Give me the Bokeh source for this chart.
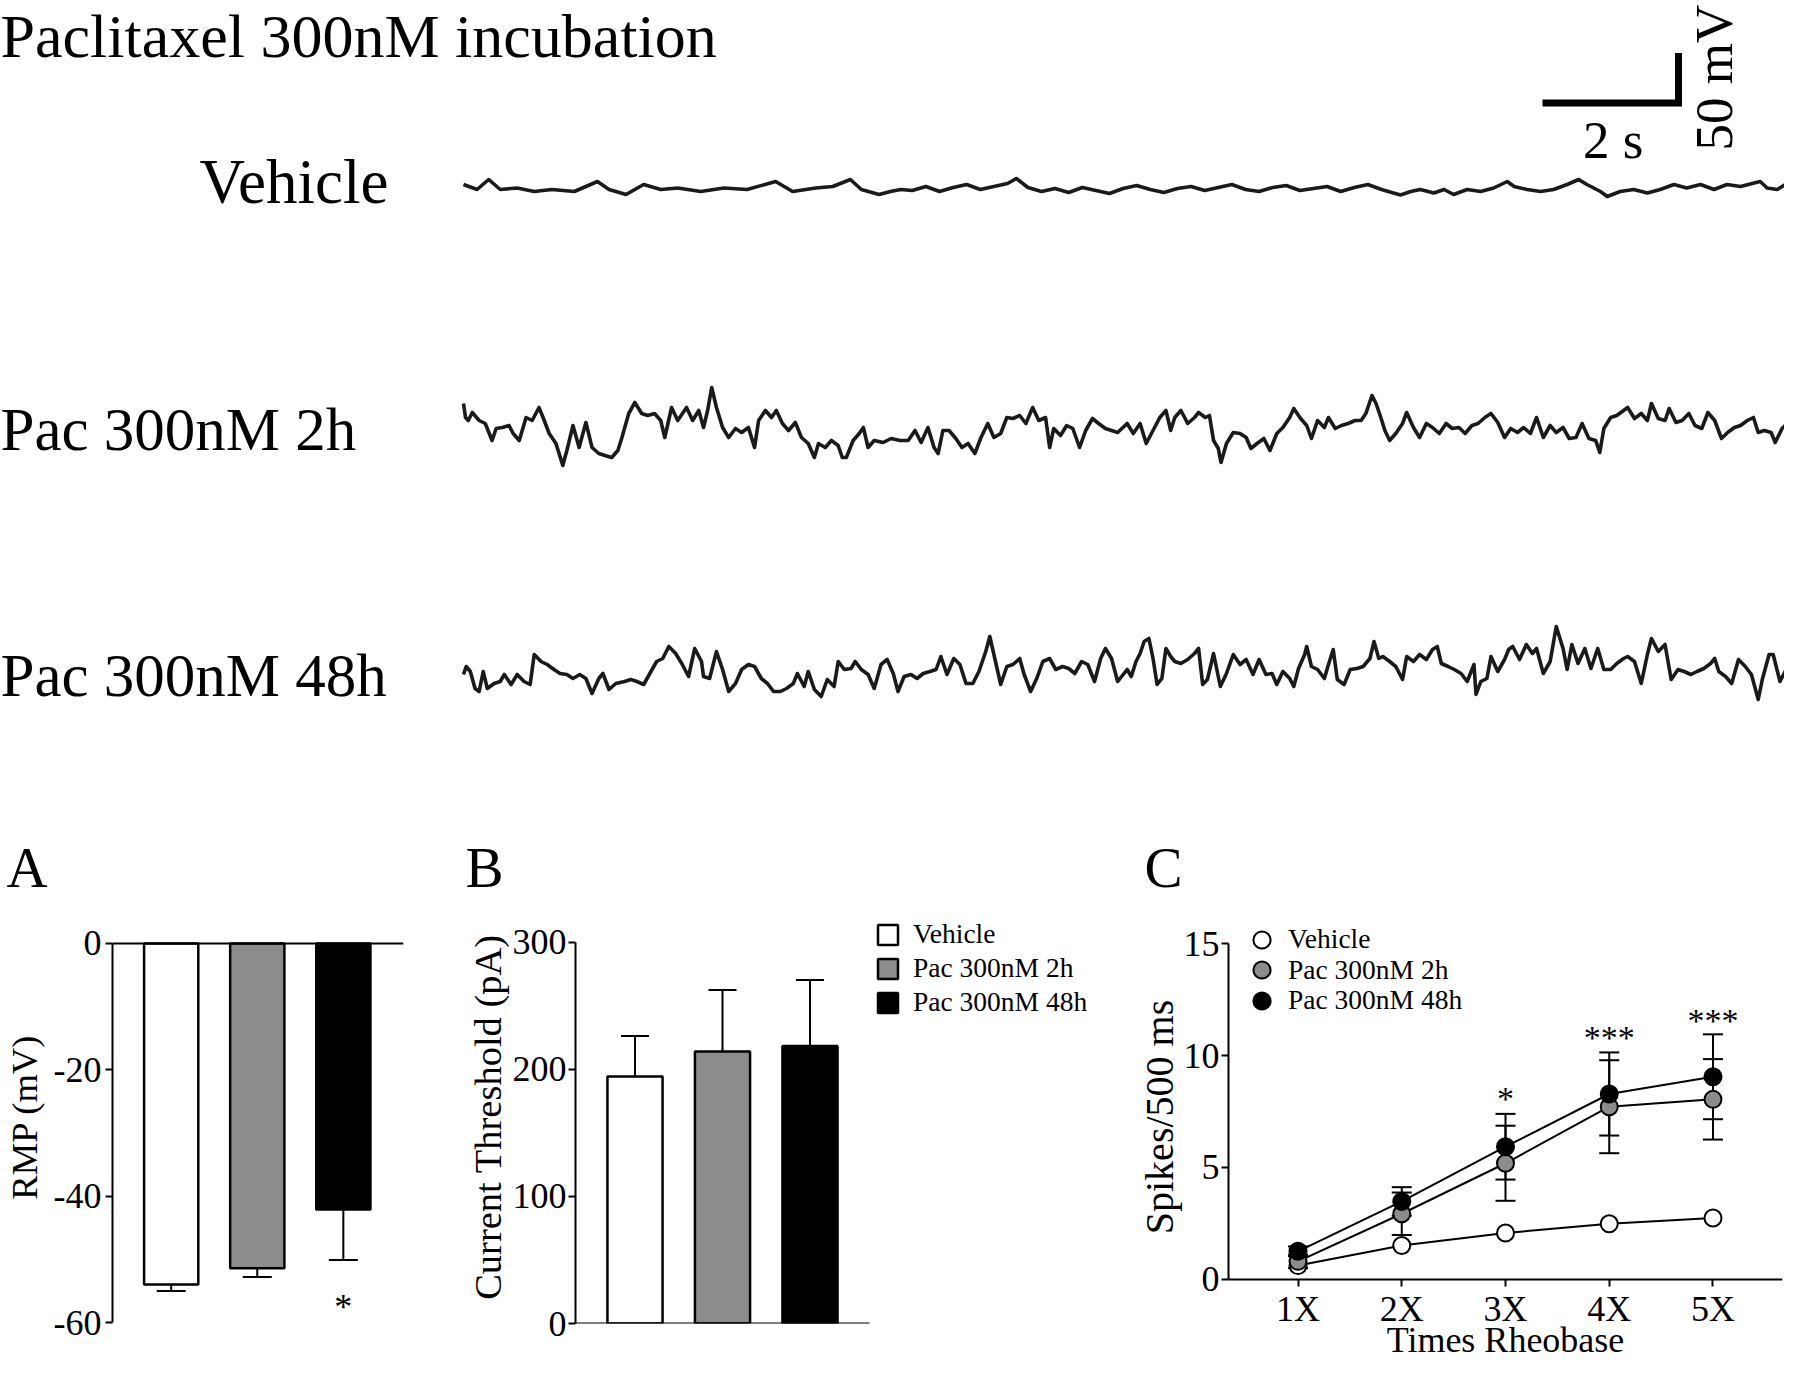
import math
from bokeh.plotting import figure
from bokeh.layouts import column, row
from bokeh.models import (Range1d, FixedTicker, Whisker, TeeHead, ColumnDataSource,
                          Legend, LegendItem, LinearAxis)
from bokeh.core.properties import value
from bokeh.embed import file_html
from bokeh.resources import INLINE

FONT = "Liberation Serif"

# ------------------------------------------------------------------
# Example membrane-potential traces (time in s, deviation in mV)
# ------------------------------------------------------------------
veh_t = [0.00, 0.20, 0.37, 0.54, 0.79, 1.04, 1.30, 1.63, 1.97, 2.14,
         2.39, 2.65, 2.90, 3.15, 3.49, 3.83, 4.17, 4.59, 4.84, 5.18,
         5.43, 5.69, 5.85, 6.11, 6.28, 6.43, 6.60, 6.80, 7.00, 7.20,
         7.40, 7.60, 7.80, 8.00, 8.13, 8.30, 8.50, 8.70, 8.90, 9.10,
         9.30, 9.50, 9.70, 9.90, 10.10, 10.30, 10.50, 10.70, 10.90, 11.10,
         11.30, 11.50, 11.70, 11.90, 12.10, 12.30, 12.50, 12.70, 12.90, 13.10,
         13.30, 13.50, 13.65, 13.78, 13.93, 14.07, 14.27, 14.42, 14.56, 14.76,
         14.96, 15.15, 15.35, 15.45, 15.64, 15.84, 16.03, 16.23, 16.40, 16.52,
         16.72, 16.82, 17.01, 17.21, 17.41, 17.60, 17.80, 17.99, 18.19, 18.39,
         18.58, 18.78, 18.98, 19.07, 19.17, 19.32, 19.44]
veh_mv = [4, -1, 9, -1, 0.5, -3, -1, -3, 7, -1,
          -6, 4, -1, 0.5, -3, 0.5, -1, 7, -3, 0.5,
          2, 9, -1, -6, -3, -1, -2, 2, -3, 1,
          4, -1, 2, 5, 10, 1, -3, 0, -4, 1,
          -2, -5, 0, 3, -1, -4, 0, 2, -2, 1,
          4, -1, -3, 1, 3, -2, 0, 2, -3, 1,
          4, -1, -4, -6.5, -3, -1, -4.5, -1, -6, -1,
          -3, 0.5, 7, 2, -1, -3, -1, 4, 9, 4,
          -3, -8, -3, -1, -4.5, -1, 4, 0.5, 4, -1,
          4, 2, 5.5, 7, 0.5, -1, 4]

pac2_t = [0.00, 0.03, 0.07, 0.13, 0.23, 0.32, 0.42, 0.48, 0.57, 0.67,
          0.73, 0.82, 0.92, 1.01, 1.11, 1.17, 1.26, 1.36, 1.46, 1.52,
          1.61, 1.70, 1.80, 1.89, 1.99, 2.08, 2.18, 2.27, 2.33, 2.43,
          2.52, 2.62, 2.71, 2.81, 2.90, 2.96, 3.06, 3.15, 3.28, 3.37,
          3.46, 3.53, 3.59, 3.65, 3.72, 3.81, 3.90, 4.00, 4.09, 4.19,
          4.28, 4.34, 4.44, 4.53, 4.60, 4.69, 4.78, 4.88, 4.97, 5.07,
          5.16, 5.22, 5.32, 5.41, 5.51, 5.57, 5.63, 5.73, 5.82, 5.88,
          5.95, 6.04, 6.17, 6.29, 6.42, 6.54, 6.64, 6.73, 6.83, 6.92,
          6.98, 7.05, 7.14, 7.24, 7.33, 7.42, 7.52, 7.61, 7.71, 7.80,
          7.90, 7.99, 8.08, 8.18, 8.27, 8.37, 8.46, 8.56, 8.62, 8.68,
          8.78, 8.87, 8.96, 9.06, 9.15, 9.25, 9.34, 9.44, 9.53, 9.62,
          9.76, 9.85, 9.95, 10.04, 10.14, 10.24, 10.33, 10.40, 10.46, 10.55,
          10.65, 10.75, 10.81, 10.91, 10.97, 11.03, 11.10, 11.14, 11.22, 11.32,
          11.42, 11.51, 11.58, 11.67, 11.77, 11.86, 11.96, 12.05, 12.15, 12.21,
          12.31, 12.40, 12.47, 12.56, 12.66, 12.72, 12.82, 12.91, 13.01, 13.11,
          13.20, 13.27, 13.36, 13.42, 13.49, 13.55, 13.62, 13.71, 13.81, 13.87,
          13.97, 14.06, 14.16, 14.25, 14.35, 14.45, 14.54, 14.64, 14.73, 14.83,
          14.92, 15.02, 15.11, 15.21, 15.31, 15.40, 15.50, 15.59, 15.69, 15.78,
          15.88, 15.98, 16.07, 16.17, 16.26, 16.36, 16.45, 16.55, 16.65, 16.71,
          16.77, 16.87, 16.96, 17.06, 17.12, 17.22, 17.32, 17.41, 17.47, 17.57,
          17.67, 17.73, 17.83, 17.92, 18.02, 18.11, 18.21, 18.30, 18.40, 18.50,
          18.59, 18.69, 18.78, 18.88, 18.97, 19.04, 19.13, 19.23, 19.29, 19.39,
          19.48, 19.58, 19.64]
pac2_mv = [27, 13, 10, 18, 10, 7, -10, 2, 3, 5,
           -3, -10, 13, 10, 23, 13, -3, -13, -35, -20,
           5, -17, 8, -17, -23, -25, -27, -20, -7, 17,
           28, 17, 15, 17, 10, -7, 23, 10, 23, 10,
           20, 3, 20, 43, 23, 3, -7, 2, -2, 3,
           -17, 10, 20, 13, 20, 7, 0, 8, -7, -13,
           -27, -13, -17, -10, -15, -27, -27, -10, -3, 3,
           -17, -10, -12, -8, -10, -10, 0, -12, 3, -17,
           -23, 0, 0, -8, -17, -13, -23, -7, 7, -7,
           -3, 13, 12, 15, 7, 23, 10, 13, -17, 2,
           -5, 5, 2, -17, 0, 12, 7, 2, 0, -2,
           7, -3, 7, -13, 0, 13, 20, 0, 13, 20,
           7, 13, 18, 13, 15, -10, -18, -32, -13, -2,
           -3, -7, -18, -13, -8, -20, -3, 3, 13, 22,
           12, 5, -8, 10, 3, 13, 2, 5, 7, 10,
           10, 17, 35, 27, 13, 0, -10, -3, 7, 18,
           3, -7, 7, 3, -3, 7, 2, 3, -3, 5,
           7, 13, 17, 8, -7, 2, -2, 3, -3, 13,
           -7, 5, -2, 3, -8, -7, 7, -8, -10, -22,
           2, 13, 15, 20, 23, 12, 17, 10, 27, 12,
           10, 22, 8, 10, 17, 5, 2, 18, 10, -8,
           -2, 3, 5, 10, 13, -2, 0, -2, -12, 2,
           8, 20, 13]

pac48_t = [0.00, 0.04, 0.10, 0.17, 0.23, 0.29, 0.35, 0.45, 0.54, 0.60,
           0.70, 0.79, 0.89, 0.98, 1.04, 1.14, 1.23, 1.33, 1.42, 1.52,
           1.61, 1.71, 1.80, 1.89, 1.99, 2.05, 2.14, 2.24, 2.37, 2.46,
           2.55, 2.65, 2.74, 2.84, 2.93, 3.02, 3.12, 3.21, 3.31, 3.40,
           3.50, 3.53, 3.62, 3.72, 3.81, 3.90, 4.00, 4.09, 4.19, 4.28,
           4.38, 4.47, 4.56, 4.66, 4.75, 4.85, 4.91, 5.01, 5.07, 5.16,
           5.26, 5.35, 5.45, 5.51, 5.60, 5.70, 5.76, 5.85, 5.95, 6.04,
           6.14, 6.23, 6.32, 6.39, 6.48, 6.58, 6.67, 6.76, 6.86, 6.95,
           7.02, 7.11, 7.21, 7.30, 7.39, 7.49, 7.58, 7.68, 7.74, 7.80,
           7.90, 7.99, 8.08, 8.18, 8.24, 8.34, 8.43, 8.52, 8.62, 8.71,
           8.81, 8.90, 8.99, 9.09, 9.18, 9.28, 9.37, 9.44, 9.53, 9.62,
           9.76, 9.82, 9.89, 9.95, 10.01, 10.08, 10.14, 10.20, 10.27, 10.33,
           10.40, 10.46, 10.55, 10.65, 10.75, 10.81, 10.87, 10.94, 11.03, 11.13,
           11.22, 11.32, 11.42, 11.51, 11.61, 11.70, 11.80, 11.89, 11.96, 12.05,
           12.15, 12.21, 12.28, 12.37, 12.40, 12.47, 12.56, 12.66, 12.72, 12.79,
           12.85, 12.95, 13.04, 13.14, 13.23, 13.33, 13.39, 13.46, 13.52, 13.62,
           13.71, 13.81, 13.87, 13.97, 14.06, 14.16, 14.25, 14.32, 14.38, 14.48,
           14.57, 14.67, 14.76, 14.86, 14.89, 14.96, 15.05, 15.11, 15.21, 15.31,
           15.37, 15.43, 15.53, 15.63, 15.72, 15.78, 15.88, 15.98, 16.07, 16.17,
           16.23, 16.30, 16.39, 16.49, 16.58, 16.68, 16.77, 16.87, 16.96, 17.06,
           17.12, 17.22, 17.32, 17.41, 17.47, 17.57, 17.67, 17.76, 17.86, 17.95,
           18.05, 18.14, 18.24, 18.34, 18.40, 18.46, 18.56, 18.65, 18.75, 18.85,
           18.94, 19.04, 19.10, 19.20, 19.26, 19.36, 19.45, 19.53]
pac48_mv = [-1, 7, 2, -15, -18, 2, -15, -10, -8, -1,
            -11, -1, -8, -11, 19, 12, 9, 4, 0, -1,
            -5, -1, -5, -20, -5, 0, -16, -10, -8, -6,
            -8, -11, 0, 12, 15, 27, 20, 10, -3, 25,
            12, -3, -5, 22, 4, -18, -10, 4, 9, 7,
            -5, -10, -18, -18, -15, -10, 0, -13, 2, -16,
            -23, -6, -13, 12, 4, 5, 12, 4, -1, -15,
            9, 14, 0, -18, -3, -1, -5, 0, 2, 4,
            17, -1, 15, 9, -10, -10, 2, 22, 37, 19,
            -11, 7, 9, 15, 0, -18, -5, 12, 15, 4,
            7, 5, 0, 12, 9, -8, 15, 25, 15, -8,
            4, -3, 12, 20, 32, 35, 15, -11, -5, 25,
            17, 12, 10, 14, 20, 25, -11, -6, 20, -13,
            0, 19, 9, 14, -1, 14, -1, 0, -11, 2,
            -5, -13, 5, 19, 27, 7, 4, -5, 9, 24,
            -6, -11, 4, 5, 7, 15, 32, 15, 17, 12,
            7, -6, 17, 12, 19, 14, 24, 27, 10, 7,
            4, 0, -8, 9, -21, -8, -5, 17, 2, 14,
            24, 27, 14, 29, 20, 25, 0, 12, 47, 25,
            4, 29, 10, 25, 5, 25, 4, 4, 10, 15,
            17, 12, -10, 19, 35, 22, 29, -6, 4, 2,
            -1, 2, 5, 10, 15, 2, -3, -10, 14, 7,
            -1, -26, -6, 19, 19, -8, 4, 23]

trace_labels = ["Vehicle", "Pac 300nM 2h", "Pac 300nM 48h"]
scale_s = 2      # s
scale_mv = 50    # mV

# ------------------------------------------------------------------
# Summary data
# ------------------------------------------------------------------
groups = ["Vehicle", "Pac 300nM 2h", "Pac 300nM 48h"]
rmp_ticks = [-60, -40, -20, 0]
rmp_mean = [-54.0, -51.4, -42.1]
rmp_sem = [1.0, 1.4, 8.0]
thr_ticks = [0, 100, 200, 300]
thr_mean = [194.4, 214.1, 218.5]
thr_sem = [32.0, 48.4, 51.9]

rheo_x = [1, 2, 3, 4, 5]
rheo_labels = ["1X", "2X", "3X", "4X", "5X"]
spk_ticks = [0, 5, 10, 15]
spk_veh = [0.60, 1.50, 2.06, 2.47, 2.73]
spk_2h = [0.79, 2.92, 5.18, 7.71, 8.04]
spk_48h = [1.24, 3.47, 5.92, 8.28, 9.05]
sem_2h = [0.30, 0.95, 1.68, 2.08, 1.80]
sem_48h = [0.22, 0.64, 1.47, 1.86, 1.90]
sig_x = [3, 4, 5]
sig_text = ["*", "***", "***"]

FILLS = ["white", "#8c8c8c", "black"]
MID = 0.34  # offset (in em) between the middle of a text line and its baseline


def clean(p):
    p.grid.visible = False
    p.outline_line_color = None
    p.background_fill_color = "white"
    p.border_fill_color = "white"


def style_axis(ax, label_size="36px"):
    ax.axis_line_width = 2
    ax.axis_line_color = "black"
    ax.major_tick_line_width = 2
    ax.major_tick_line_color = "black"
    ax.major_tick_out = 7
    ax.major_tick_in = 0
    ax.minor_tick_line_color = None
    ax.major_label_text_font = FONT
    ax.major_label_text_font_size = "36px"
    ax.major_label_text_color = "black"
    ax.axis_label_text_font = FONT
    ax.axis_label_text_font_size = label_size
    ax.axis_label_text_font_style = "normal"
    ax.axis_label_text_color = "black"


def bare_axis(ax):
    """Axis line only: no ticks and no tick labels."""
    ax.ticker = FixedTicker(ticks=[])
    ax.major_tick_line_color = None
    ax.major_tick_out = 0
    ax.minor_tick_line_color = None
    ax.minor_tick_out = 0
    ax.major_label_standoff = 0
    ax.axis_line_width = 2
    ax.axis_line_color = "black"


# ------------------------------------------------------------------
# Top: traces (1 screen px = 1 mV vertically, 68 px per second)
# ------------------------------------------------------------------
PX_PER_S = 68.0
T0_PX = 463
TOP_H = 900
top = figure(width=1784, height=TOP_H,
             x_range=Range1d(-T0_PX / PX_PER_S, (1784 - T0_PX) / PX_PER_S),
             y_range=Range1d(-TOP_H, 0),
             x_axis_location=None, y_axis_location=None,
             output_backend="svg", toolbar_location=None, min_border=0)
clean(top)


def tx(px):
    return (px - T0_PX) / PX_PER_S


trace_offsets = [-188, -430, -673]
for ts, vs, off in zip([veh_t, pac2_t, pac48_t], [veh_mv, pac2_mv, pac48_mv], trace_offsets):
    top.line(x=ts, y=[off + v for v in vs], line_color="#1a1a1a", line_width=3.6,
             line_join="round")


def put_text(x, base_px, txt, size, align="left", angle=0.0):
    top.text(x=[x], y=[-(base_px - MID * size)], text=[txt], angle=angle,
             text_font=value(FONT), text_font_size=f"{size}px", text_color="black",
             text_align=align, text_baseline="middle")


put_text(tx(0), 57, "Paclitaxel 300nM incubation", 62)
put_text(tx(388), 203, trace_labels[0], 63, align="right")
put_text(tx(0), 450, trace_labels[1], 61)
put_text(tx(0), 696, trace_labels[2], 61)

SB_T, SB_Y = tx(1678), -102.5
top.line(x=[SB_T - scale_s, SB_T, SB_T], y=[SB_Y, SB_Y, SB_Y + scale_mv],
         line_color="black", line_width=7, line_join="miter", line_cap="butt")
put_text(SB_T - scale_s / 2 + 0.04, 158, f"{scale_s} s", 53, align="center")
top.text(x=[tx(1732 - MID * 53)], y=[-77], text=[f"{scale_mv} mV"], angle=math.pi / 2,
         text_font=value(FONT), text_font_size="53px", text_color="black",
         text_align="center", text_baseline="middle")

# panel letters
put_text(tx(6), 886, "A", 57)
put_text(tx(465), 886, "B", 57)
put_text(tx(1144), 886, "C", 57)

# ------------------------------------------------------------------
# Bottom row: common frame from y=910 to y=1324 (page px)
# ------------------------------------------------------------------
ROW_H = 1362 - TOP_H
FR_TOP, FR_BOT = 910, 1324
BT, BB = FR_TOP - TOP_H, 1362 - FR_BOT

# A: RMP (0 at y=943, -60 at 1323)
pxA = 380 / 60.0
pA = figure(width=440, height=ROW_H,
            x_range=Range1d(0.318, 3.699),
            y_range=Range1d(-60 - (FR_BOT - 1323) / pxA, (943 - FR_TOP) / pxA),
            x_axis_location="above", output_backend="svg", toolbar_location=None,
            min_border_left=108, min_border_right=37, min_border_top=BT, min_border_bottom=BB)
clean(pA)
pA.vbar(x=[1, 2, 3], top=rmp_mean, bottom=0, width=0.63, fill_color=FILLS,
        line_color="black", line_width=2.5)
srcA = ColumnDataSource(dict(base=[1, 2, 3], upper=rmp_mean,
                             lower=[m - s for m, s in zip(rmp_mean, rmp_sem)]))
pA.add_layout(Whisker(source=srcA, base="base", upper="upper", lower="lower",
                      upper_head=None, lower_head=TeeHead(size=29, line_width=2),
                      line_width=2, line_color="black"))
pA.text(x=[3], y=[-57.5], text=["*"], text_font=value(FONT), text_font_size="36px",
        text_align="center", text_baseline="middle", text_color="black")
style_axis(pA.yaxis[0], "36.5px")
pA.yaxis.ticker = FixedTicker(ticks=rmp_ticks)
pA.yaxis.bounds = (min(rmp_ticks), max(rmp_ticks))
pA.yaxis.major_label_overrides = {t: str(t) for t in rmp_ticks}
pA.yaxis.axis_label = "RMP (mV)"
pA.yaxis.major_label_standoff = 4
pA.yaxis.axis_label_standoff = 6
bare_axis(pA.xaxis[0])
pA.xaxis.fixed_location = 0

# B: current threshold (0 at 1324, 300 at 942)
pxB = 382 / 300.0
pB = figure(width=680, height=ROW_H,
            x_range=Range1d(0.32, 0.32 + 525 / 87.5),
            y_range=Range1d(-(FR_BOT - 1324) / pxB, 300 + (942 - FR_TOP) / pxB),
            output_backend="svg", toolbar_location=None,
            min_border_left=135, min_border_right=20, min_border_top=BT, min_border_bottom=BB)
clean(pB)
rB = pB.vbar(x=[1, 2, 3], top=thr_mean, bottom=0, width=0.63, fill_color=FILLS,
             line_color="black", line_width=2.5)
srcB = ColumnDataSource(dict(base=[1, 2, 3], lower=thr_mean,
                             upper=[m + s for m, s in zip(thr_mean, thr_sem)]))
pB.add_layout(Whisker(source=srcB, base="base", upper="upper", lower="lower",
                      lower_head=None, upper_head=TeeHead(size=28, line_width=2),
                      line_width=2, line_color="black"))
style_axis(pB.yaxis[0], "38.5px")
pB.yaxis.ticker = FixedTicker(ticks=thr_ticks)
pB.yaxis.bounds = (min(thr_ticks), max(thr_ticks))
pB.yaxis.axis_label = "Current Threshold (pA)"
pB.yaxis.major_label_standoff = 2
pB.yaxis.axis_label_standoff = 1
bare_axis(pB.xaxis[0])
pB.xaxis.bounds = (0.32, 3.68)
pB.xaxis.fixed_location = 0
legB = Legend(items=[LegendItem(label=value(g), renderers=[rB], index=i)
                     for i, g in enumerate(groups)],
              location=(300, FR_BOT - 1019), glyph_width=25, glyph_height=25, spacing=2,
              label_standoff=13, padding=0, margin=0, border_line_color=None,
              background_fill_alpha=0, label_text_font=FONT,
              label_text_font_size="27.5px", label_text_color="black")
pB.add_layout(legB)

# C: spikes vs times rheobase (0 at 1279.4, 15 at 943.4)
pxC = 336 / 15.0
pC = figure(width=664, height=ROW_H, x_range=Range1d(0.33, 5.67),
            y_range=Range1d(-(FR_BOT - 1279.4) / pxC, 15 + (943.4 - FR_TOP) / pxC),
            output_backend="svg", toolbar_location=None,
            min_border_left=108, min_border_right=2, min_border_top=BT, min_border_bottom=BB)
clean(pC)
srcC2 = ColumnDataSource(dict(base=rheo_x, lower=[m - s for m, s in zip(spk_2h, sem_2h)],
                              upper=[m + s for m, s in zip(spk_2h, sem_2h)]))
srcC48 = ColumnDataSource(dict(base=rheo_x, lower=[m - s for m, s in zip(spk_48h, sem_48h)],
                               upper=[m + s for m, s in zip(spk_48h, sem_48h)]))
for src in (srcC2, srcC48):
    pC.add_layout(Whisker(source=src, base="base", upper="upper", lower="lower",
                          upper_head=TeeHead(size=20, line_width=2),
                          lower_head=TeeHead(size=20, line_width=2),
                          line_width=2, line_color="black"))
for ys in (spk_veh, spk_2h, spk_48h):
    pC.line(x=rheo_x, y=ys, line_color="black", line_width=2)
scat = []
for ys, fc in zip([spk_veh, spk_2h, spk_48h], FILLS):
    scat.append(pC.scatter(x=rheo_x, y=ys, size=17, marker="circle", fill_color=fc,
                           line_color="black", line_width=2))
pC.text(x=sig_x, y=[8.08, 10.82, 11.57], text=sig_text, text_font=value(FONT),
        text_font_size="34px", text_align="center", text_baseline="middle",
        text_color="black")
style_axis(pC.yaxis[0], "40px")
style_axis(pC.xaxis[0], "36px")
pC.yaxis.ticker = FixedTicker(ticks=spk_ticks)
pC.yaxis.bounds = (min(spk_ticks), max(spk_ticks))
pC.yaxis.axis_label = "Spikes/500 ms"
pC.yaxis.major_label_standoff = 2
pC.yaxis.axis_label_standoff = -1
pC.xaxis.ticker = FixedTicker(ticks=rheo_x)
pC.xaxis.major_label_overrides = {x: l for x, l in zip(rheo_x, rheo_labels)}
pC.xaxis.major_label_standoff = 3
pC.xaxis.fixed_location = 0
# x-axis title sits in the panel under the frame (no line, no ticks)
title_ax = LinearAxis(axis_label="Times Rheobase", axis_label_standoff=-4,
                      axis_label_text_font=FONT, axis_label_text_font_size="36px",
                      axis_label_text_font_style="normal", axis_label_text_color="black")
bare_axis(title_ax)
title_ax.axis_line_color = None
pC.add_layout(title_ax, "below")
# one single-entry legend per series so the rows can sit closer than the glyph box
for g, r, row_bottom in zip(groups, scat, [961.5, 992, 1022.5]):
    pC.add_layout(Legend(items=[LegendItem(label=value(g), renderers=[r])],
                         location=(12, FR_BOT - row_bottom), glyph_width=43, glyph_height=43,
                         label_standoff=5, padding=0, margin=0, border_line_color=None,
                         background_fill_alpha=0, label_text_font=FONT,
                         label_text_font_size="27.5px", label_text_color="black"))

layout = column(top, row(pA, pB, pC))
open("out.html", "w").write(file_html(layout, INLINE))
